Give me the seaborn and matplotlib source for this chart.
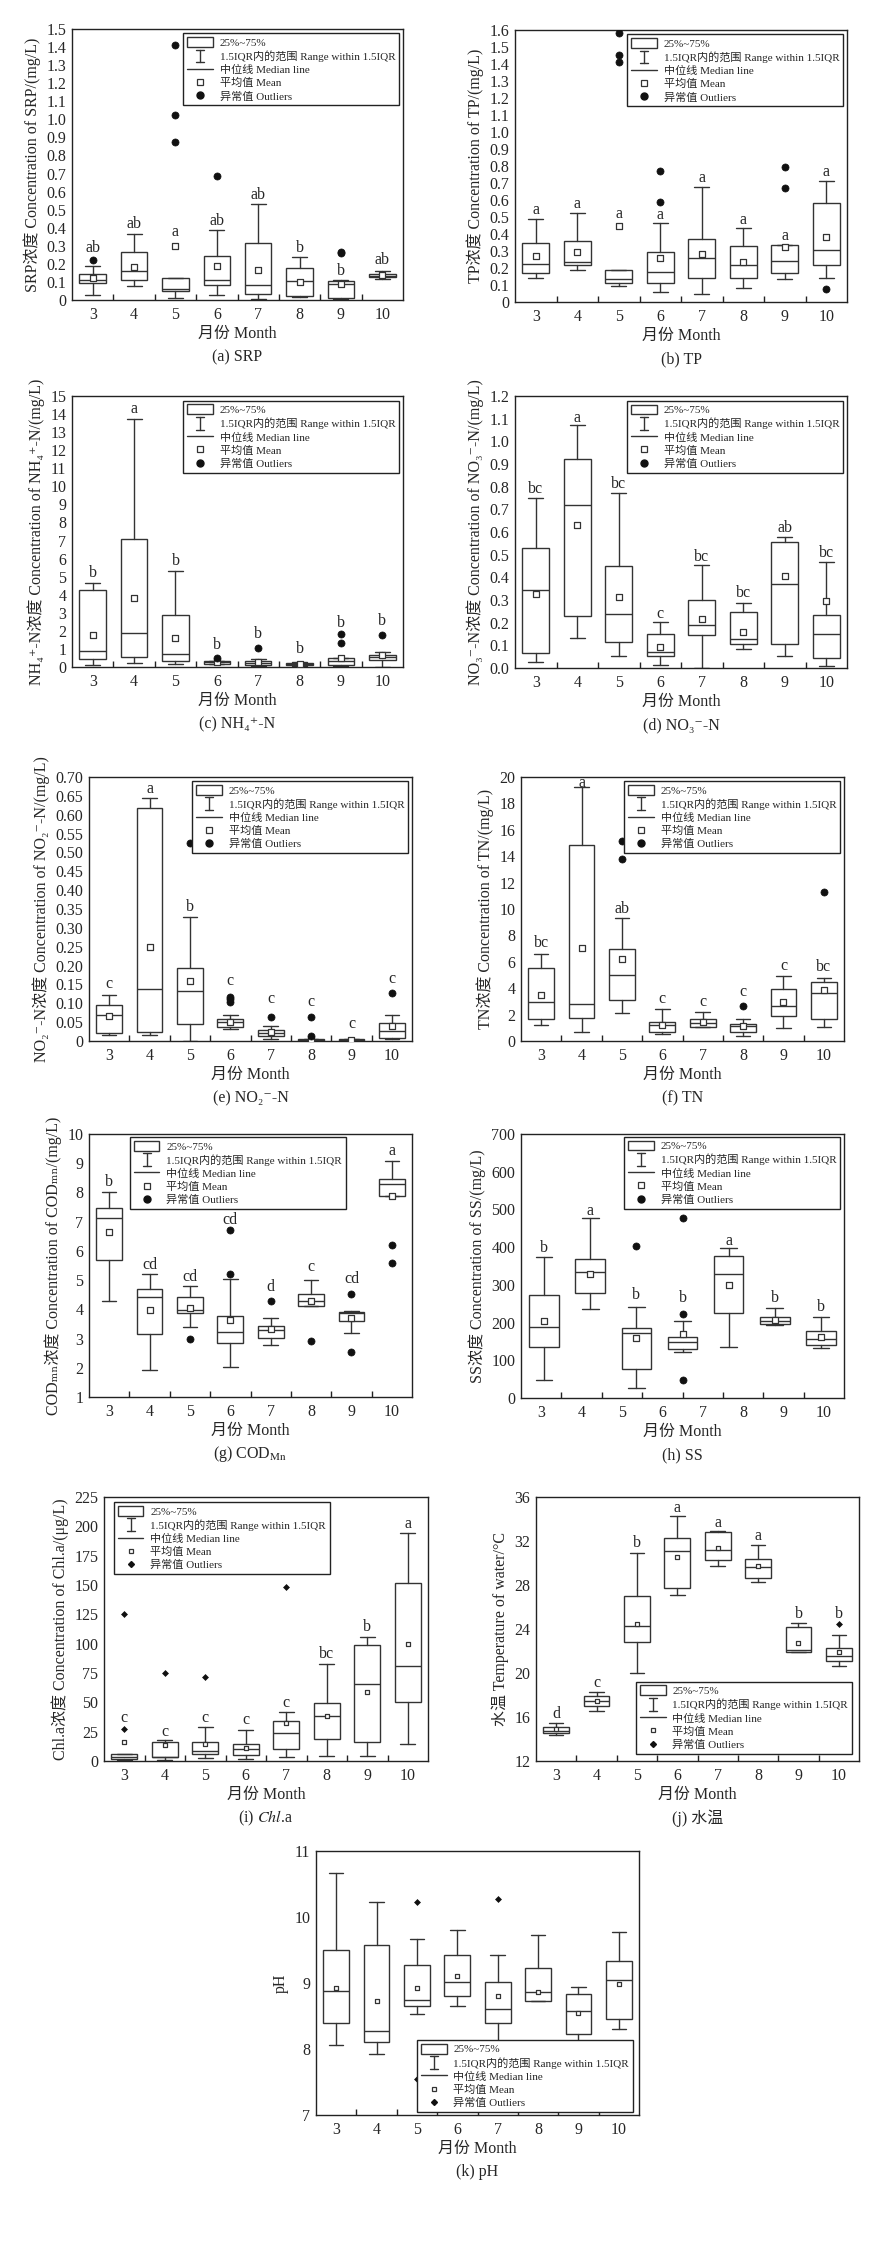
import numpy as np
import matplotlib
matplotlib.use("Agg")
import matplotlib.pyplot as plt
import matplotlib.patches as mpatches
from matplotlib.lines import Line2D
from matplotlib.legend_handler import HandlerBase
import seaborn as sns

# ---------------------------------------------------------
# style
# ---------------------------------------------------------
sns.set_style("ticks")
plt.rcParams["font.family"] = ["Liberation Serif", "DejaVu Serif", "Noto Sans CJK SC", "DejaVu Sans"]
plt.rcParams["mathtext.fontset"] = "stix"
plt.rcParams["axes.edgecolor"] = "#222222"
plt.rcParams["axes.linewidth"] = 1.0

EDGE = "#333333"

months = [3, 4, 5, 6, 7, 8, 9, 10]

# ---------------------------------------------------------
# data
# ---------------------------------------------------------
# (a) SRP
srp_q1 = [0.094, 0.109, 0.052, 0.081, 0.033, 0.024, 0.009, 0.125]
srp_med = [0.110, 0.162, 0.063, 0.110, 0.083, 0.103, 0.087, 0.133]
srp_q3 = [0.142, 0.265, 0.123, 0.241, 0.317, 0.177, 0.105, 0.144]
srp_lo = [0.030, 0.079, 0.010, 0.030, 0.004, 0.015, 0.004, 0.116]
srp_hi = [0.190, 0.367, 0.123, 0.385, 0.529, 0.238, 0.108, 0.162]
srp_mean = [0.123, 0.182, 0.300, 0.188, 0.164, 0.100, 0.090, 0.136]
srp_out = [[0.22], [], [1.41, 1.024, 0.872], [0.687], [], [], [0.267, 0.258], []]
srp_letters = ["ab", "ab", "a", "ab", "ab", "b", "b", "ab"]
srp_letter_y = [0.286, 0.42, 0.374, 0.437, 0.58, 0.286, 0.16, 0.219]

# (b) TP
tp_q1 = [0.170, 0.220, 0.109, 0.109, 0.139, 0.139, 0.170, 0.215]
tp_med = [0.224, 0.234, 0.133, 0.174, 0.260, 0.217, 0.244, 0.306]
tp_q3 = [0.347, 0.361, 0.191, 0.295, 0.371, 0.332, 0.336, 0.585]
tp_lo = [0.144, 0.187, 0.094, 0.057, 0.049, 0.082, 0.137, 0.142]
tp_hi = [0.490, 0.525, 0.191, 0.462, 0.679, 0.433, 0.336, 0.712]
tp_mean = [0.269, 0.295, 0.447, 0.260, 0.281, 0.234, 0.324, 0.380]
tp_out = [[], [], [1.584, 1.452, 1.409], [0.769, 0.591], [], [], [0.792, 0.669], [0.078]]
tp_letters = ["a", "a", "a", "a", "a", "a", "a", "a"]
tp_letter_y = [0.539, 0.574, 0.515, 0.509, 0.73, 0.484, 0.39, 0.765]

# (c) NH4+-N
nh4_q1 = [0.44, 0.53, 0.33, 0.18, 0.11, 0.09, 0.11, 0.40]
nh4_med = [0.90, 1.86, 0.72, 0.26, 0.22, 0.17, 0.33, 0.57]
nh4_q3 = [4.25, 7.10, 2.87, 0.33, 0.31, 0.24, 0.48, 0.68]
nh4_lo = [0.11, 0.24, 0.17, 0.15, 0.04, 0.05, 0.07, 0.02]
nh4_hi = [4.63, 13.75, 5.33, 0.35, 0.46, 0.28, 0.48, 0.85]
nh4_mean = [1.75, 3.80, 1.58, 0.26, 0.29, 0.16, 0.50, 0.64]
nh4_out = [[], [], [], [0.50], [1.03], [], [1.84, 1.34], [1.75]]
nh4_letters = ["b", "a", "b", "b", "b", "b", "b", "b"]
nh4_letter_y = [5.2, 14.26, 5.86, 1.23, 1.82, 0.97, 2.46, 2.56]

# (d) NO3--N
no3_q1 = [0.065, 0.230, 0.116, 0.052, 0.146, 0.106, 0.105, 0.043]
no3_med = [0.343, 0.719, 0.239, 0.071, 0.190, 0.128, 0.371, 0.152]
no3_q3 = [0.530, 0.923, 0.449, 0.150, 0.302, 0.246, 0.558, 0.233]
no3_lo = [0.028, 0.133, 0.053, 0.012, 0.000, 0.084, 0.053, 0.007]
no3_hi = [0.750, 1.071, 0.773, 0.202, 0.455, 0.287, 0.577, 0.467]
no3_mean = [0.328, 0.629, 0.314, 0.094, 0.216, 0.160, 0.406, 0.297]
no3_out = [[], [], [], [], [], [], [], []]
no3_letters = ["bc", "a", "bc", "c", "bc", "bc", "ab", "bc"]
no3_letter_y = [0.79, 1.105, 0.81, 0.239, 0.49, 0.33, 0.617, 0.508]

# (e) NO2--N
no2_q1 = [0.022, 0.025, 0.046, 0.038, 0.012, 0.001, 0.001, 0.007]
no2_med = [0.068, 0.139, 0.133, 0.051, 0.022, 0.003, 0.003, 0.027]
no2_q3 = [0.095, 0.617, 0.193, 0.058, 0.030, 0.004, 0.004, 0.048]
no2_lo = [0.016, 0.016, 0.000, 0.033, 0.005, 0.001, 0.001, 0.004]
no2_hi = [0.122, 0.643, 0.328, 0.070, 0.041, 0.004, 0.004, 0.068]
no2_mean = [0.065, 0.249, 0.159, 0.051, 0.023, 0.003, 0.003, 0.039]
no2_out = [[], [], [0.524], [0.116, 0.111, 0.103], [0.064], [0.064, 0.012], [], [0.127]]
no2_letters = ["c", "a", "b", "c", "c", "c", "c", "c"]
no2_letter_y = [0.15, 0.668, 0.355, 0.159, 0.111, 0.104, 0.046, 0.165]

# (f) TN
tn_q1 = [1.66, 1.74, 3.10, 0.71, 1.08, 0.71, 1.87, 1.69]
tn_med = [2.98, 2.80, 4.97, 1.24, 1.34, 1.13, 2.67, 3.61]
tn_q3 = [5.55, 14.88, 6.96, 1.46, 1.69, 1.31, 3.96, 4.49]
tn_lo = [1.21, 0.66, 2.14, 0.53, 1.03, 0.35, 1.01, 1.08]
tn_hi = [6.61, 19.22, 9.33, 2.42, 2.19, 1.66, 4.92, 4.74]
tn_mean = [3.48, 7.04, 6.18, 1.19, 1.46, 1.13, 2.95, 3.86]
tn_out = [[], [], [15.18, 13.82], [], [], [2.65], [], [11.27]]
tn_letters = ["bc", "a", "ab", "c", "c", "c", "c", "bc"]
tn_letter_y = [7.44, 19.55, 9.99, 3.2, 2.98, 3.71, 5.65, 5.57]

# (g) CODMn
cod_q1 = [5.69, 3.14, 3.88, 2.85, 3.02, 4.12, 3.60, 7.87]
cod_med = [7.14, 4.41, 3.97, 3.23, 3.28, 4.30, 3.89, 8.30]
cod_q3 = [7.48, 4.70, 4.41, 3.76, 3.43, 4.54, 3.92, 8.47]
cod_lo = [4.27, 1.92, 3.39, 2.04, 2.78, 4.12, 3.20, 7.87]
cod_hi = [8.02, 5.20, 4.79, 5.05, 3.71, 5.01, 3.96, 9.09]
cod_mean = [6.64, 3.97, 4.05, 3.64, 3.31, 4.30, 3.71, 7.89]
cod_out = [[], [], [2.97], [6.72, 5.21], [4.27], [2.90], [4.54, 2.54], [6.20, 5.57]]
cod_letters = ["b", "cd", "cd", "cd", "d", "c", "cd", "a"]
cod_letter_y = [8.36, 5.52, 5.11, 7.04, 4.77, 5.44, 5.04, 9.41]

# (h) SS  (seven boxes drawn under eight month labels)
ss_q1 = [134, 278, 77, 130, 226, 196, 141]
ss_med = [189, 335, 172, 148, 329, 205, 157]
ss_q3 = [273, 369, 185, 161, 376, 214, 178]
ss_lo = [48, 235, 27, 121, 134, 194, 132]
ss_hi = [374, 478, 241, 205, 397, 239, 214]
ss_mean = [204, 330, 158, 171, 300, 207, 163]
ss_out = [[], [], [404], [476, 223, 47], [], [], []]
ss_letters = ["b", "a", "b", "b", "a", "b", "b"]
ss_letter_y = [398, 496, 273, 265, 417, 265, 240]

# (i) Chl.a
chl_q1 = [1.7, 3.1, 6.0, 4.8, 10.2, 19.0, 16.5, 50.0]
chl_med = [3.1, 3.4, 8.5, 10.2, 23.6, 38.0, 65.9, 80.7]
chl_q3 = [6.0, 16.5, 15.9, 14.8, 34.1, 49.4, 98.6, 151.7]
chl_lo = [1.1, 1.1, 2.6, 1.4, 3.1, 4.3, 4.5, 14.2]
chl_hi = [6.0, 17.6, 28.7, 26.1, 41.8, 82.4, 105.7, 194.6]
chl_mean = [16.2, 13.4, 14.8, 11.1, 32.1, 38.4, 58.5, 99.7]
chl_out = [[125.6, 27.3], [75.0], [71.9], [], [148.6], [], [], []]
chl_letters = ["c", "c", "c", "c", "c", "bc", "b", "a"]
chl_letter_y = [36.9, 25.0, 36.4, 34.7, 49.4, 91.2, 113.9, 202.0]

# (j) water temperature
wt_q1 = [14.57, 17.02, 22.80, 27.71, 30.31, 28.62, 21.87, 21.08]
wt_med = [14.69, 17.45, 24.29, 31.07, 31.19, 29.68, 22.08, 21.56]
wt_q3 = [15.12, 17.93, 27.04, 32.28, 32.82, 30.34, 24.20, 22.26]
wt_lo = [14.39, 16.51, 19.99, 27.07, 29.77, 28.28, 21.87, 20.63]
wt_hi = [15.45, 18.23, 30.95, 34.25, 32.91, 31.64, 24.56, 23.50]
wt_mean = [14.94, 17.45, 24.50, 30.58, 31.40, 29.71, 22.71, 21.90]
wt_out = [[], [], [], [], [], [], [], [24.44]]
wt_letters = ["d", "c", "b", "a", "a", "a", "b", "b"]
wt_letter_y = [16.27, 19.05, 31.82, 35.0, 33.67, 32.43, 25.4, 25.4]

# (k) pH
ph_q1 = [8.39, 8.10, 8.65, 8.81, 8.40, 8.72, 8.23, 8.45]
ph_med = [8.88, 8.28, 8.74, 9.01, 8.60, 8.87, 8.58, 9.04]
ph_q3 = [9.50, 9.57, 9.28, 9.42, 9.02, 9.22, 8.84, 9.34]
ph_lo = [8.06, 7.93, 8.53, 8.65, 8.05, 8.72, 8.10, 8.31]
ph_hi = [10.66, 10.23, 9.66, 9.81, 9.43, 9.73, 8.94, 9.78]
ph_mean = [8.93, 8.73, 8.93, 9.11, 8.80, 8.86, 8.55, 8.99]
ph_out = [[], [], [10.23, 7.54], [], [10.27], [], [], []]
ph_letters = []
ph_letter_y = []

# ---------------------------------------------------------
# legend handler for the whisker symbol
# ---------------------------------------------------------
class IBarHandler(HandlerBase):
    def create_artists(self, legend, orig_handle, xdescent, ydescent,
                       width, height, fontsize, trans):
        x = width / 2 - xdescent
        y0 = -ydescent - 0.15 * height
        y1 = height - ydescent + 0.15 * height
        c = 0.16 * width
        parts = [Line2D([x, x], [y0, y1]),
                 Line2D([x - c, x + c], [y0, y0]),
                 Line2D([x - c, x + c], [y1, y1])]
        for p in parts:
            p.set_color(EDGE)
            p.set_linewidth(1.0)
            p.set_transform(trans)
        return parts


class IBar:
    pass


W, H = 888, 2264
fig = plt.figure(figsize=(W / 100, H / 100), dpi=100)


def px_axes(left, top, right, bottom):
    return fig.add_axes([left / W, 1 - bottom / H, (right - left) / W, (bottom - top) / H])


def draw_panel(rect, q1, med, q3, lo, hi, mean, out, letters, letter_y,
               ylim, yticks, ytick_labels, ylabel, caption,
               leg_loc, leg_anchor, small=False):
    ax = px_axes(*rect)
    n = len(q1)
    pos = np.arange(n)

    stats = []
    for i in range(n):
        stats.append(dict(q1=q1[i], med=med[i], q3=q3[i],
                          whislo=lo[i], whishi=hi[i], fliers=[]))
    ax.bxp(stats, positions=pos, widths=0.64, capwidths=0.36,
           showfliers=False, patch_artist=True,
           boxprops=dict(facecolor="white", edgecolor=EDGE, linewidth=1.0),
           whiskerprops=dict(color=EDGE, linewidth=1.0),
           capprops=dict(color=EDGE, linewidth=1.0),
           medianprops=dict(color=EDGE, linewidth=1.0))

    mean_s = 7 if small else 16
    sns.scatterplot(x=pos, y=mean, marker="s", s=mean_s, color="white",
                    edgecolor=EDGE, linewidth=0.9, ax=ax, zorder=4, legend=False)

    ox = [pos[i] for i in range(n) for _ in out[i]]
    oy = [v for i in range(n) for v in out[i]]
    if ox:
        sns.scatterplot(x=ox, y=oy, marker="D" if small else "o",
                        s=9 if small else 26, color="#111111",
                        edgecolor="#111111", linewidth=0.5,
                        ax=ax, zorder=4, legend=False)

    for i, lab in enumerate(letters):
        ax.text(pos[i], letter_y[i], lab, ha="center", va="center", fontsize=11.5)

    # month labels spread over eight equal slots
    slot = n / len(months)
    ax.set_xlim(-0.5, n - 0.5)
    ax.set_xticks(-0.5 + (np.arange(len(months)) + 0.5) * slot)
    ax.set_xticklabels([str(m) for m in months])
    ax.set_xticks(-0.5 + np.arange(1, len(months)) * slot, minor=True)
    ax.tick_params(axis="x", which="major", length=0, pad=5, labelsize=11.5)
    ax.tick_params(axis="x", which="minor", direction="in", length=4, width=1, color="#222222")

    ax.set_ylim(*ylim)
    ax.set_yticks(yticks)
    ax.set_yticklabels(ytick_labels)
    ax.tick_params(axis="y", length=0, pad=4, labelsize=11.5)

    ax.set_ylabel(ylabel, fontsize=11.5, labelpad=4)
    ax.set_xlabel("月份 Month", fontsize=11.5, labelpad=2)

    handles = [
        mpatches.Rectangle((0, 0), 1, 1, facecolor="white", edgecolor=EDGE, linewidth=1.0),
        IBar(),
        Line2D([], [], color=EDGE, linewidth=1.0),
        Line2D([], [], linestyle="none", marker="s", markerfacecolor="white",
               markeredgecolor=EDGE, markersize=3 if small else 4.5, markeredgewidth=0.9),
        Line2D([], [], linestyle="none", marker="D" if small else "o",
               color="#111111", markersize=3 if small else 5),
    ]
    labels = ["25%~75%", "1.5IQR内的范围 Range within 1.5IQR", "中位线 Median line",
              "平均值 Mean", "异常值 Outliers"]
    leg = ax.legend(handles, labels, loc=leg_loc, bbox_to_anchor=leg_anchor,
                    borderaxespad=0, fontsize=8, frameon=True, fancybox=False,
                    framealpha=1, edgecolor="#222222", handlelength=2.3,
                    handleheight=1.0, handletextpad=0.6, labelspacing=0.22,
                    borderpad=0.35, handler_map={IBar: IBarHandler()})
    leg.get_frame().set_linewidth(1.0)

    left, top, right, bottom = rect
    fig.text((left + right) / 2 / W, 1 - (bottom + 57) / H, caption,
             ha="center", va="center", fontsize=11.5)
    return ax


def fmt(vals, first_zero=True, nd=1):
    labs = [f"{v:.{nd}f}" for v in vals]
    if first_zero:
        labs[0] = "0"
    return labs


ur = "upper right"

v = np.round(np.arange(0, 1.51, 0.1), 2)
draw_panel((72, 29, 403, 300), srp_q1, srp_med, srp_q3, srp_lo, srp_hi, srp_mean, srp_out,
           srp_letters, srp_letter_y, (0, 1.5), v, fmt(v),
           "SRP浓度 Concentration of SRP/(mg/L)", "(a) SRP", ur, (0.988, 0.985))

v = np.round(np.arange(0, 1.61, 0.1), 2)
draw_panel((515, 30, 847, 302), tp_q1, tp_med, tp_q3, tp_lo, tp_hi, tp_mean, tp_out,
           tp_letters, tp_letter_y, (0, 1.6), v, fmt(v),
           "TP浓度 Concentration of TP/(mg/L)", "(b) TP", ur, (0.988, 0.985))

v = np.arange(0, 16, 1)
draw_panel((72, 396, 403, 667), nh4_q1, nh4_med, nh4_q3, nh4_lo, nh4_hi, nh4_mean, nh4_out,
           nh4_letters, nh4_letter_y, (0, 15), v, [str(x) for x in v],
           "NH₄⁺-N浓度 Concentration of NH₄⁺-N/(mg/L)", "(c) NH₄⁺-N", ur, (0.988, 0.983))

v = np.round(np.arange(0, 1.21, 0.1), 2)
draw_panel((515, 396, 847, 668), no3_q1, no3_med, no3_q3, no3_lo, no3_hi, no3_mean, no3_out,
           no3_letters, no3_letter_y, (0, 1.2), v, fmt(v, first_zero=False),
           "NO₃⁻-N浓度 Concentration of NO₃⁻-N/(mg/L)", "(d) NO₃⁻-N", ur, (0.988, 0.983))

v = np.round(np.arange(0, 0.701, 0.05), 3)
draw_panel((89, 777, 412, 1041), no2_q1, no2_med, no2_q3, no2_lo, no2_hi, no2_mean, no2_out,
           no2_letters, no2_letter_y, (0, 0.70), v, fmt(v, nd=2),
           "NO₂⁻-N浓度 Concentration of NO₂⁻-N/(mg/L)", "(e) NO₂⁻-N", ur, (0.988, 0.985))

v = np.arange(0, 21, 2)
draw_panel((521, 777, 844, 1041), tn_q1, tn_med, tn_q3, tn_lo, tn_hi, tn_mean, tn_out,
           tn_letters, tn_letter_y, (0, 20), v, [str(x) for x in v],
           "TN浓度 Concentration of TN/(mg/L)", "(f) TN", ur, (0.988, 0.985))

v = np.arange(1, 11, 1)
draw_panel((89, 1134, 412, 1397), cod_q1, cod_med, cod_q3, cod_lo, cod_hi, cod_mean, cod_out,
           cod_letters, cod_letter_y, (1, 10), v, [str(x) for x in v],
           "CODₘₙ浓度 Concentration of CODₘₙ/(mg/L)", r"(g) COD$_{\mathrm{Mn}}$",
           "upper left", (0.127, 0.989))

v = np.arange(0, 701, 100)
draw_panel((521, 1134, 844, 1398), ss_q1, ss_med, ss_q3, ss_lo, ss_hi, ss_mean, ss_out,
           ss_letters, ss_letter_y, (0, 700), v, [str(x) for x in v],
           "SS浓度 Concentration of SS/(mg/L)", "(h) SS", ur, (0.988, 0.99))

v = np.arange(0, 226, 25)
draw_panel((104, 1497, 428, 1761), chl_q1, chl_med, chl_q3, chl_lo, chl_hi, chl_mean, chl_out,
           chl_letters, chl_letter_y, (0, 225), v, [str(x) for x in v],
           "Chl.a浓度 Concentration of Chl.a/(μg/L)", r"(i) $\mathit{Chl}$.a",
           "upper left", (0.031, 0.981), small=True)

v = np.arange(12, 37, 4)
draw_panel((536, 1497, 859, 1761), wt_q1, wt_med, wt_q3, wt_lo, wt_hi, wt_mean, wt_out,
           wt_letters, wt_letter_y, (12, 36), v, [str(x) for x in v],
           "水温 Temperature of water/°C", "(j) 水温", "lower right", (0.978, 0.027), small=True)

v = np.arange(7, 12, 1)
draw_panel((316, 1851, 639, 2115), ph_q1, ph_med, ph_q3, ph_lo, ph_hi, ph_mean, ph_out,
           ph_letters, ph_letter_y, (7, 11), v, [str(x) for x in v],
           "pH", "(k) pH", "lower right", (0.981, 0.011), small=True)

fig.savefig("out.png", dpi=100, facecolor="white")
